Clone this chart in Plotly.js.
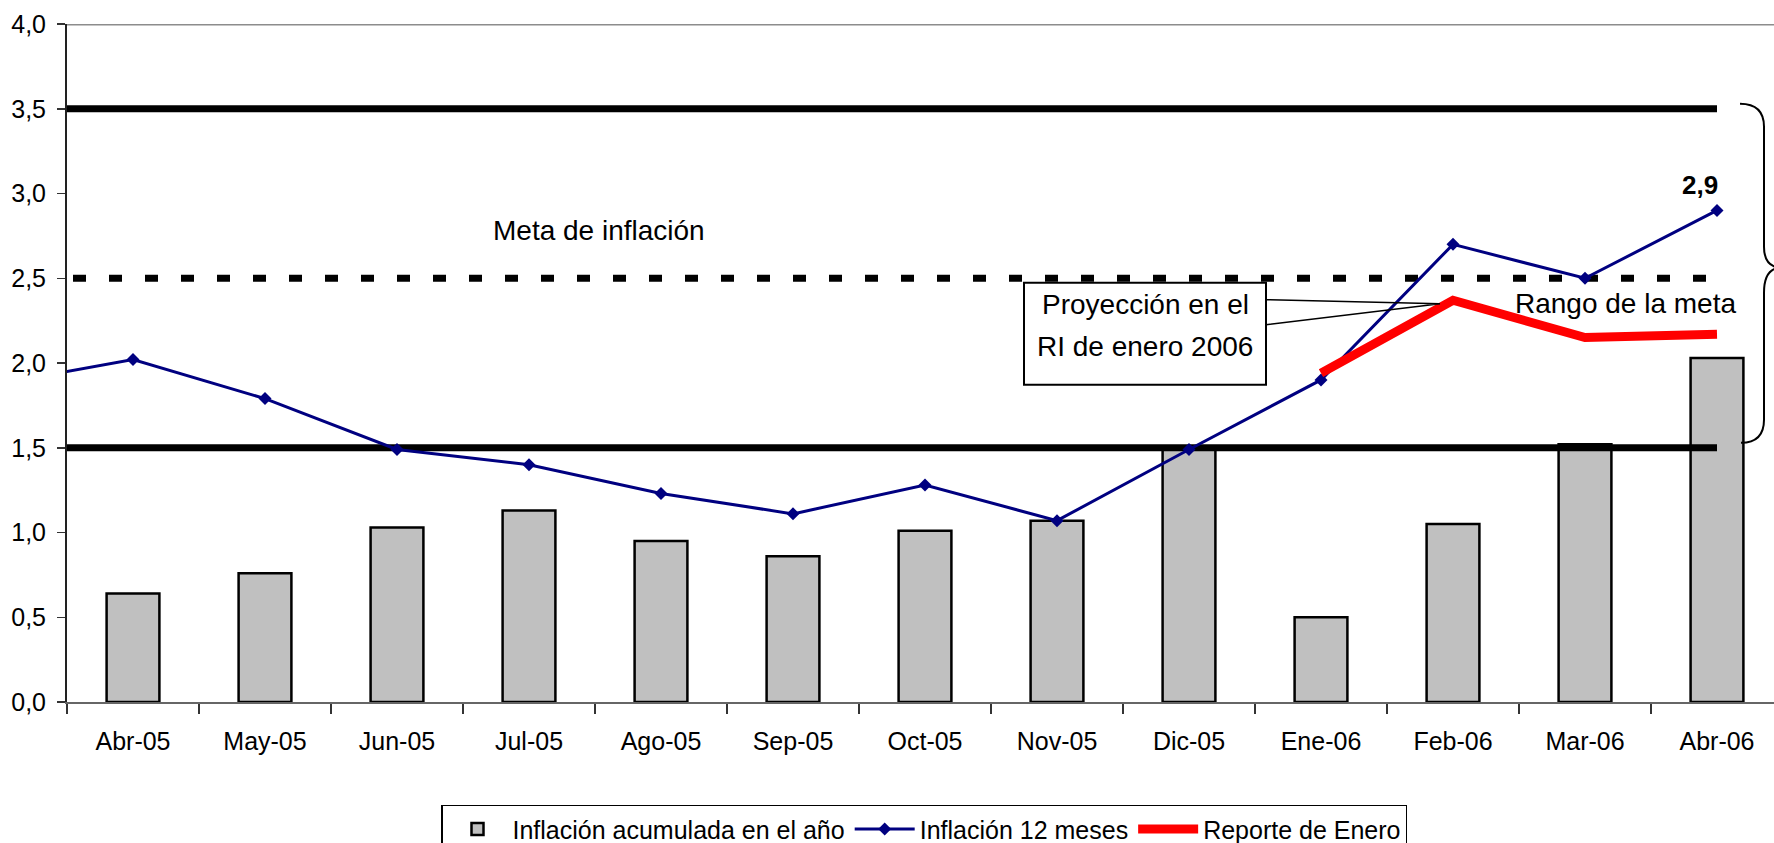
<!DOCTYPE html>
<html>
<head>
<meta charset="utf-8">
<script src="https://cdn.plot.ly/plotly-3.0.1.min.js"></script>
<style>
html,body{margin:0;padding:0;background:#fff;overflow:hidden;width:1774px;height:843px;}
#chart{width:1784px;height:843px;}
</style>
</head>
<body>
<div id="chart"></div>
<script>
// ---- Data ----
const categories = ['Mar-05','Abr-05','May-05','Jun-05','Jul-05','Ago-05','Sep-05','Oct-05','Nov-05','Dic-05','Ene-06','Feb-06','Mar-06','Abr-06'];
const inflacionAcumulada = [null, 0.64, 0.76, 1.03, 1.13, 0.95, 0.86, 1.01, 1.07, 1.50, 0.50, 1.05, 1.52, 2.03];
const inflacion12Meses   = [1.88, 2.02, 1.79, 1.49, 1.40, 1.23, 1.11, 1.28, 1.07, 1.49, 1.90, 2.70, 2.50, 2.90];
const reporteCategories = ['Ene-06','Feb-06','Mar-06','Abr-06'];
const reporteEnero      = [1.94, 2.37, 2.15, 2.17];
const metaInflacion = 2.5;
const rangoSuperior = 3.5;
const rangoInferior = 1.5;
const ultimoValorLabel = '2,9';

// ---- Layout helpers (pixel -> paper) ----
const L = 67, T = 24.3, W = 1716, H = 678;
const fx = p => (p - L) / W;
const fy = p => (T + H - p) / H;
const FONT = '"Liberation Sans", Arial, sans-serif';

const endsX = [categories[0], categories[categories.length - 1]];

const traces = [
  {
    type: 'bar', name: 'Inflación acumulada en el año',
    x: categories, y: inflacionAcumulada, width: 0.40,
    marker: {color: '#c0c0c0', line: {color: '#000', width: 2.5}},
    hoverinfo: 'x+y'
  },
  {
    type: 'scatter', mode: 'lines', showlegend: false, hoverinfo: 'skip',
    x: endsX, y: [rangoSuperior, rangoSuperior],
    line: {color: '#000', width: 7}
  },
  {
    type: 'scatter', mode: 'lines', showlegend: false, hoverinfo: 'skip',
    x: endsX, y: [rangoInferior, rangoInferior],
    line: {color: '#000', width: 7}
  },
  {
    type: 'scatter', mode: 'lines', showlegend: false, hoverinfo: 'skip',
    x: endsX, y: [metaInflacion, metaInflacion],
    line: {color: '#000', width: 7, dash: '13px,23px'}
  },
  {
    type: 'scatter', mode: 'lines+markers', name: 'Inflación 12 meses',
    x: categories, y: inflacion12Meses,
    line: {color: '#000080', width: 3},
    marker: {symbol: 'diamond', size: 10, color: '#000080'}
  },
  {
    type: 'scatter', mode: 'lines', name: 'Reporte de Enero',
    x: reporteCategories, y: reporteEnero,
    line: {color: '#ff0000', width: 9}
  }
];

const bracePath = (() => {
  const pts = [
    ['M', 1740, 104], ['Q', 1764, 104, 1764, 127], ['L', 1764, 247],
    ['Q', 1764, 266, 1779, 268], ['Q', 1764, 270, 1764, 293], ['L', 1764, 420],
    ['Q', 1764, 443, 1741, 443]
  ];
  return pts.map(s => {
    const c = s[0]; const v = s.slice(1); const out = [];
    for (let i = 0; i < v.length; i += 2) out.push(fx(v[i]) + ',' + fy(v[i + 1]));
    return c + out.join(' ');
  }).join(' ');
})();

const wedgePath = 'M' + fx(1266) + ',' + fy(300) + ' L' + fx(1440) + ',' + fy(304) + ' L' + fx(1266) + ',' + fy(325);

const layout = {
  width: 1784, height: 843,
  margin: {l: L, r: 1, t: 24, b: 141, pad: 0, autoexpand: false},
  paper_bgcolor: '#fff', plot_bgcolor: '#fff',
  separators: ',.',
  font: {family: FONT, color: '#000', size: 24},
  showlegend: true,
  bargap: 0.6,
  xaxis: {
    type: 'category', categoryorder: 'array', categoryarray: categories,
    range: [0.5, 13.5], tickson: 'boundaries', ticks: 'outside', ticklen: 10,
    tickwidth: 1.5, tickcolor: '#333', showline: true, linecolor: '#666', linewidth: 2,
    showgrid: false, zeroline: false, fixedrange: true, automargin: false,
    tickfont: {family: FONT, size: 25, color: '#000'}, ticklabelstandoff: 16
  },
  yaxis: {
    range: [0, 4], dtick: 0.5, tick0: 0, tickformat: '.1f',
    ticks: 'outside', ticklen: 8, tickwidth: 1.5, tickcolor: '#333',
    showline: true, linecolor: '#222', linewidth: 2,
    showgrid: false, zeroline: false, fixedrange: true, automargin: false,
    tickfont: {family: FONT, size: 25, color: '#000'}, ticklabelstandoff: 6
  },
  legend: {
    orientation: 'h', x: fx(441), y: fy(805), xanchor: 'left', yanchor: 'top',
    bordercolor: '#000', borderwidth: 1.5, bgcolor: '#fff',
    font: {family: FONT, size: 25, color: '#000'}, itemwidth: 60,
    traceorder: 'normal'
  },
  shapes: [
    {type: 'line', xref: 'paper', yref: 'y', x0: 0, x1: 1.01, y0: 4, y1: 4, line: {color: '#8c8c8c', width: 3}},
    {type: 'path', xref: 'paper', yref: 'paper', path: bracePath, line: {color: '#000', width: 2}, layer: 'above'},
    {type: 'path', xref: 'paper', yref: 'paper', path: wedgePath, line: {color: '#000', width: 1.5}, layer: 'above'},
    {type: 'rect', xref: 'paper', yref: 'paper', x0: fx(1024), x1: fx(1266), y0: fy(283), y1: fy(385),
     line: {color: '#000', width: 2}, fillcolor: '#fff', layer: 'above'}
  ],
  annotations: [
    {xref: 'paper', yref: 'paper', x: fx(599), y: fy(231), text: 'Meta de inflación', showarrow: false,
     xanchor: 'center', yanchor: 'middle', font: {family: FONT, size: 28, color: '#000'}},
    {xref: 'paper', yref: 'paper', x: fx(1625), y: fy(304), text: 'Rango de la meta', showarrow: false,
     xanchor: 'center', yanchor: 'middle', font: {family: FONT, size: 28, color: '#000'}},
    {xref: 'paper', yref: 'paper', x: fx(1145), y: fy(305), text: 'Proyección en el', showarrow: false,
     xanchor: 'center', yanchor: 'middle', font: {family: FONT, size: 28, color: '#000'}},
    {xref: 'paper', yref: 'paper', x: fx(1145), y: fy(347), text: 'RI de enero 2006', showarrow: false,
     xanchor: 'center', yanchor: 'middle', font: {family: FONT, size: 28, color: '#000'}},
    {xref: 'x', yref: 'y', x: categories[categories.length - 1], y: inflacion12Meses[inflacion12Meses.length - 1],
     text: '<b>' + ultimoValorLabel + '</b>', showarrow: false, xshift: -17, yshift: 25,
     xanchor: 'center', yanchor: 'middle', font: {family: FONT, size: 26, color: '#000'}}
  ]
};

Plotly.newPlot('chart', traces, layout, {displayModeBar: false, staticPlot: true});
</script>
</body>
</html>
